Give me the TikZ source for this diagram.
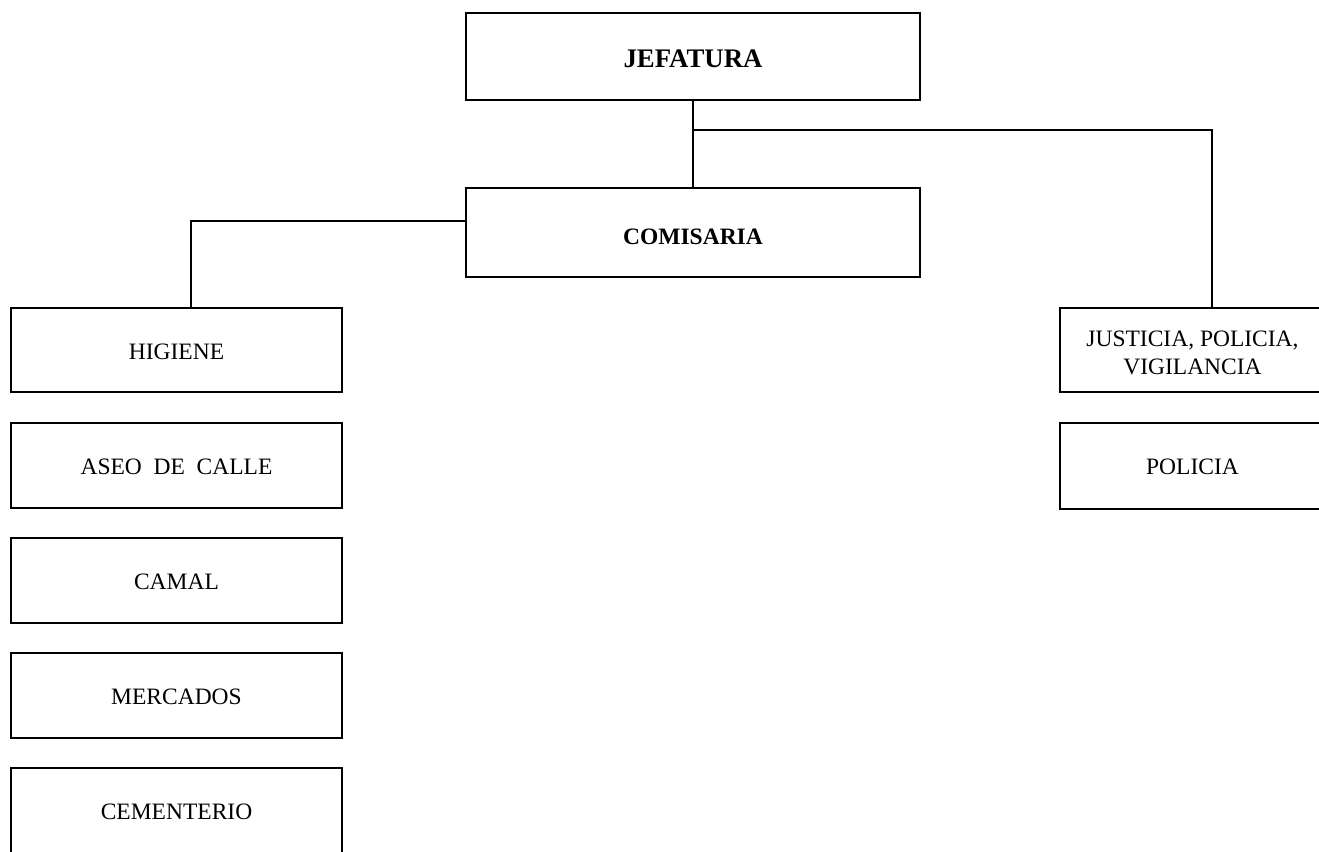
\documentclass[tikz,border=0pt]{standalone}
\usepackage{fontspec}
\setmainfont{Liberation Serif}
\newcommand\lowtext[2]{\raisebox{-#1}[\height][\depth]{\begin{tabular}{@{}c@{}}#2\end{tabular}}}
\begin{document}
\begin{tikzpicture}[x=1pt,y=-1pt,
  box/.style={draw, line width=2pt, inner sep=0pt,
    font=\fontsize{23.5}{28}\selectfont},
  boldbox/.style={box, font=\fontsize{23.5}{28}\selectfont\bfseries},
  conn/.style={line width=2pt}]
\useasboundingbox (0,0) rectangle (1319,851);
\clip (0,0) rectangle (1319,851);
\node[boldbox, minimum width=454pt, minimum height=87pt, font=\fontsize{26.8}{30}\selectfont\bfseries] (jef) at (693,56.5) {\lowtext{5.2pt}{JEFATURA}};
\node[boldbox, minimum width=454pt, minimum height=89pt] (com) at (693,232.5) {\lowtext{6.4pt}{COMISARIA}};
\node[box, minimum width=331pt, minimum height=84pt] (hig) at (176.5,350) {\lowtext{3.4pt}{HIGIENE}};
\node[box, minimum width=331pt, minimum height=85pt] (ase) at (176.5,465.5) {\lowtext{3.4pt}{ASEO\ \ DE\ \ CALLE}};
\node[box, minimum width=331pt, minimum height=85pt] (cam) at (176.5,580.5) {\lowtext{3.4pt}{CAMAL}};
\node[box, minimum width=331pt, minimum height=85pt] (mer) at (176.5,695.5) {\lowtext{3.4pt}{MERCADOS}};
\node[box, minimum width=331pt, minimum height=85pt] (cem) at (176.5,810.5) {\lowtext{3.4pt}{CEMENTERIO}};
\node[box, minimum width=265pt, minimum height=84pt] (jus) at (1192.5,350) {\lowtext{5.2pt}{JUSTICIA, POLICIA,\\VIGILANCIA}};
\node[box, minimum width=265pt, minimum height=86pt] (pol) at (1192.5,466) {\lowtext{2.9pt}{POLICIA}};
\coordinate (j1) at (693,130);
\draw[conn] (jef.south) -- (com.north);
\draw[conn] (j1) -| ([xshift=19.5pt]jus.north);
\draw[conn] ([yshift=11.5pt]com.west) -| ([xshift=14.5pt]hig.north);
\end{tikzpicture}
\end{document}
